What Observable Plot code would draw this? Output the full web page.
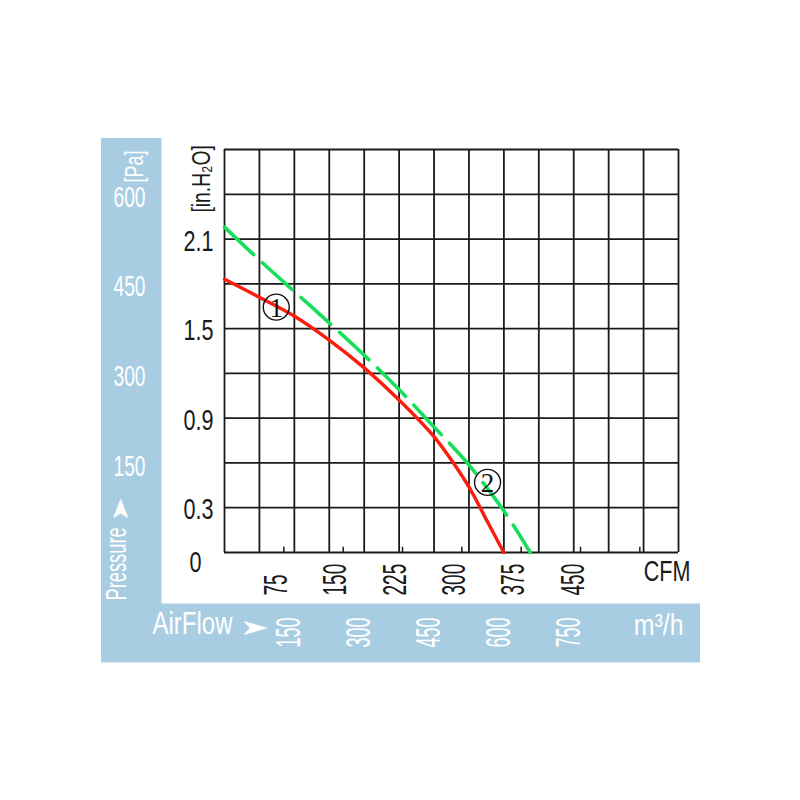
<!DOCTYPE html>
<html><head><meta charset="utf-8">
<script src="https://cdn.jsdelivr.net/npm/d3@7"></script>
<script src="https://cdn.jsdelivr.net/npm/@observablehq/plot@0.6"></script>
<style>html,body{margin:0;padding:0;background:#fff;} #chart{width:800px;height:800px;}</style>
</head><body><div id="chart"></div>
<script>
// unit conversions
const M3H_PER_CFM = 1.699;
const PA_PER_INH2O = 249.09;

// grid (m³/h every 75, in.H2O every 0.3)
const gridM3h = [0,75,150,225,300,375,450,525,600,675,750,825,900,975];
const gridInH2O = [0,0.3,0.6,0.9,1.2,1.5,1.8,2.1,2.4,2.7];

// tick labels
const cfmLabels = [75,150,225,300,375,450];
const cfmTickMarks = [75,150,225,300,375,450,525];
const m3hLabels = [150,300,450,600,750];
const inH2OLabels = [0.3,0.9,1.5,2.1];
const zeroLabel = [0];
const paLabels = [150,300,450,600];

// curve ① (red, solid)
const curve1Cfm   = [0,    44,   88,    132,  177,   221,  265,  290,  310,   332,  353];
const curve1InH2O = [1.83, 1.71, 1.585, 1.425, 1.235, 1.02, 0.775, 0.595, 0.43, 0.21, 0];
// curve ② (green, dashed)
const curve2Cfm   = [0,    44,   88,    132,  177,  221,  265,  290,  310,   353,  386.5];
const curve2InH2O = [2.18, 1.96, 1.75,  1.54, 1.32, 1.09, 0.84, 0.70, 0.58,  0.28, 0];

// circled curve markers
const markerIds = ["1","2"];
const markerCfm = [65.4, 332.5];
const markerInH2O = [1.644, 0.47];

const curve1 = curve1Cfm.map((c,i)=>({cfm:c, p:curve1InH2O[i]}));
const curve2 = curve2Cfm.map((c,i)=>({cfm:c, p:curve2InH2O[i]}));
const markers = markerIds.map((id,i)=>({id, cfm:markerCfm[i], p:markerInH2O[i]}));

const ff = (sx, sy = 1) => `'Liberation Sans', 'DejaVu Sans', 'sx ${sx} ${sy}'`;
const ink = "#1a1a1a";

const svg = Plot.plot({
  width: 800, height: 800,
  marginLeft: 224, marginRight: 122, marginTop: 149, marginBottom: 248,
  x: {domain: [0, 975 / M3H_PER_CFM], axis: null},
  y: {domain: [0, 2.7], axis: null},
  style: {fontFamily: "Liberation Sans", background: "white"},
  marks: [
    Plot.ruleX(gridM3h, {x: d => d / M3H_PER_CFM, stroke: ink, strokeWidth: 1.8}),
    Plot.ruleY(gridInH2O, {y: d => d, stroke: ink, strokeWidth: 1.8}),
    Plot.ruleX(cfmTickMarks, {x: d => d, y1: 0, y2: 0.035, stroke: ink, strokeWidth: 1.5}),
    Plot.line(curve1, {x: "cfm", y: "p", stroke: "#fb1d0e", strokeWidth: 3.4, curve: "catmull-rom"}),
    Plot.line(curve2, {x: "cfm", y: "p", stroke: "#18df5a", strokeWidth: 3.6, strokeDasharray: "40,12", curve: "catmull-rom"}),
    Plot.dot(markers, {x: "cfm", y: "p", r: 13, stroke: "#111", strokeWidth: 1.4, fill: "none"}),
    Plot.text(markers, {x: "cfm", y: "p", text: "id", dy: 1, fontFamily: "'Liberation Serif'", fontSize: 27, fill: "#111"}),
    // left in.H2O labels
    Plot.text(inH2OLabels, {y: d => d, text: d => String(d), frameAnchor: "left", textAnchor: "end", dx: -11, dy: 2, fontSize: 30, fontFamily: ff(0.72), fill: ink}),
    Plot.text(zeroLabel, {y: d => d, text: d => String(d), frameAnchor: "left", textAnchor: "end", dx: -23, dy: 10, fontSize: 30, fontFamily: ff(0.72), fill: ink}),
    Plot.text(["[in.H₂O]"], {text: d => d, frameAnchor: "top-left", dx: -33, dy: 63, rotate: -90, textAnchor: "start", fontSize: 26, fontFamily: ff(0.74), fill: ink}),
    // Pa labels in band
    Plot.text(paLabels, {y: d => d / PA_PER_INH2O, text: d => String(d), frameAnchor: "left", textAnchor: "middle", dx: -95, dy: 4, fontSize: 30, fontFamily: ff(0.64), fill: "white"}),
    Plot.text(["[Pa]"], {text: d => d, frameAnchor: "top-left", dx: -99, dy: 33, rotate: -90, textAnchor: "start", fontSize: 25, fontFamily: ff(0.72), fill: "white"}),
    Plot.text(["Pressure"], {text: d => d, frameAnchor: "bottom-left", dx: -99, dy: 48, rotate: -90, textAnchor: "start", fontSize: 30, fontFamily: ff(0.61), fill: "white"}),
    Plot.text(["➤"], {text: d => d, frameAnchor: "bottom-left", dx: -97, dy: -31, rotate: -90, textAnchor: "start", fontSize: 34, fontFamily: ff(0.85, 0.7), fill: "white"}),
    // CFM labels
    Plot.text(cfmLabels, {x: d => d, text: d => String(d), frameAnchor: "bottom", rotate: -90, textAnchor: "start", dx: 3, dy: 43, fontSize: 34, fontFamily: ff(0.56), fill: ink}),
    Plot.text(["CFM"], {text: d => d, frameAnchor: "bottom-right", textAnchor: "end", dx: 12, dy: 28, fontSize: 30, fontFamily: ff(0.72), fill: ink}),
    // m³/h labels in band
    Plot.text(m3hLabels, {x: d => d / M3H_PER_CFM, text: d => String(d), frameAnchor: "bottom", rotate: -90, textAnchor: "start", dx: 6, dy: 95, fontSize: 36, fontFamily: ff(0.5), fill: "white"}),
    Plot.text(["m³/h"], {text: d => d, frameAnchor: "bottom-right", textAnchor: "end", dx: 5, dy: 82, fontSize: 30, fontFamily: ff(0.83), fill: "white"}),
    Plot.text(["AirFlow"], {text: d => d, frameAnchor: "bottom-left", textAnchor: "start", dx: -72, dy: 81, fontSize: 32, fontFamily: ff(0.75), fill: "white"}),
    Plot.text(["➤"], {text: d => d, frameAnchor: "bottom-left", textAnchor: "start", dx: 15, dy: 82, fontSize: 34, fontFamily: ff(1.05, 0.65), fill: "white"})
  ]
});

// condense text (narrow typeface look)
svg.querySelectorAll("[font-family]").forEach(g => {
  const m = /sx ([\d.]+) ([\d.]+)/.exec(g.getAttribute("font-family"));
  if (!m) return;
  g.querySelectorAll("text").forEach(t => {
    t.setAttribute("transform", (t.getAttribute("transform") || "") + ` scale(${m[1]},${m[2]})`);
  });
});

// light-blue L-shaped band behind the chart
d3.select(svg).insert("path", ":first-child")
  .attr("d", "M101,138H161.5V603.5H700V662.5H101Z")
  .attr("fill", "#a8cde2");

document.getElementById("chart").appendChild(svg);
</script>
</body></html>
